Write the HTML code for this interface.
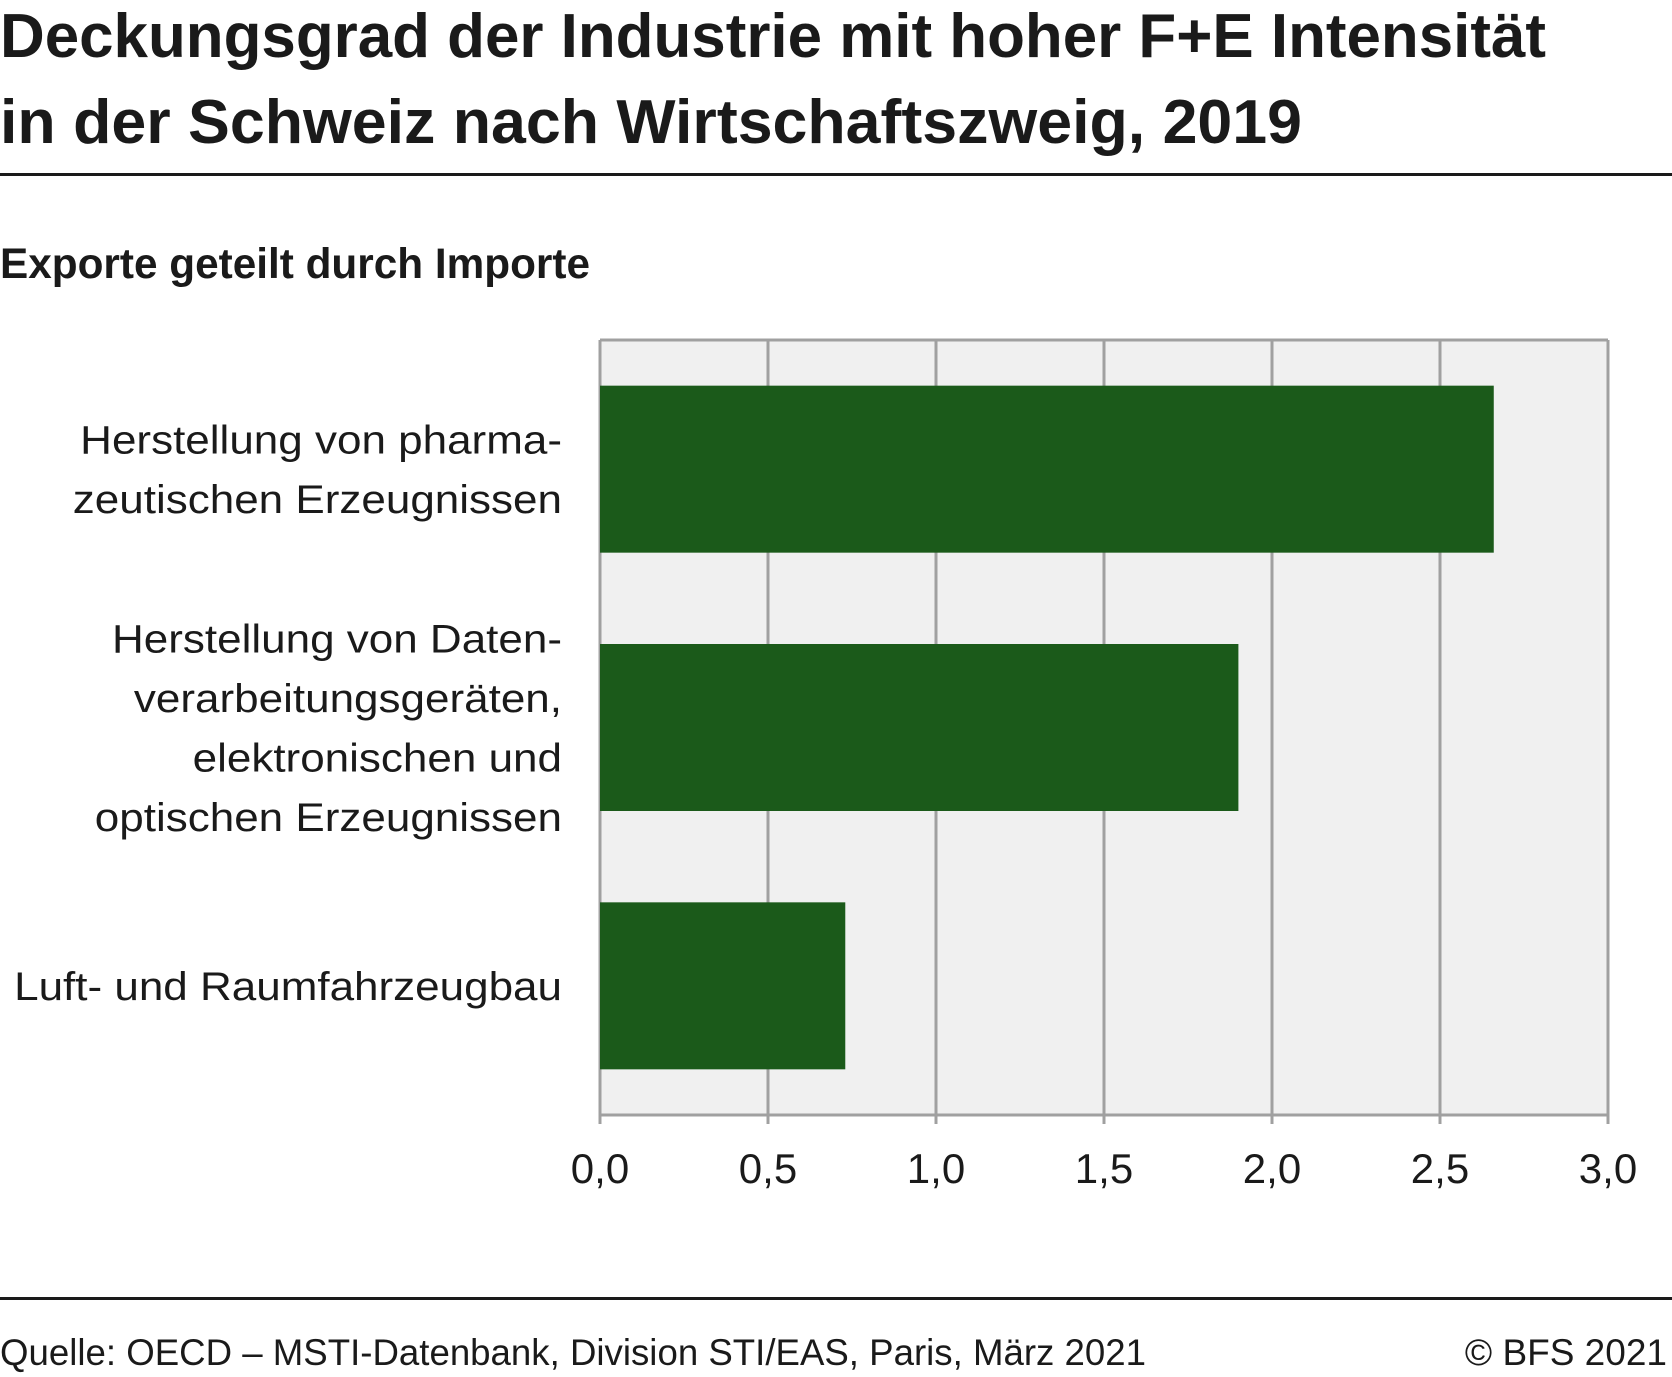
<!DOCTYPE html>
<html><head><meta charset="utf-8"><style>
html,body{margin:0;padding:0;background:#fff}
svg{display:block}
text{font-family:"Liberation Sans",sans-serif;fill:#1a1a1a}
</style></head><body>
<svg id="chart" width="1672" height="1377" viewBox="0 0 1672 1377" xmlns="http://www.w3.org/2000/svg">
<text x="0" y="57" font-size="62" font-weight="bold" textLength="1546" lengthAdjust="spacingAndGlyphs">Deckungsgrad der Industrie mit hoher F+E Intensität</text>
<text x="0" y="143" font-size="62" font-weight="bold" textLength="1302" lengthAdjust="spacingAndGlyphs">in der Schweiz nach Wirtschaftszweig, 2019</text>
<rect x="0" y="173" width="1672" height="3" fill="#1a1a1a"/>
<text x="0" y="278" font-size="43" font-weight="bold" textLength="590" lengthAdjust="spacingAndGlyphs">Exporte geteilt durch Importe</text>
<g id="plot"></g>
<rect x="0" y="1297" width="1672" height="3" fill="#1a1a1a"/>
<text x="0" y="1365" font-size="37" fill="#333" textLength="1146" lengthAdjust="spacingAndGlyphs">Quelle: OECD – MSTI-Datenbank, Division STI/EAS, Paris, März  2021</text>
<text x="1667" y="1365" font-size="37" text-anchor="end" fill="#333">© BFS 2021</text>
</svg>
<script>
const categories = [
  ["Herstellung von pharma-","zeutischen Erzeugnissen"],
  ["Herstellung von Daten-","verarbeitungsgeräten,","elektronischen und","optischen Erzeugnissen"],
  ["Luft- und Raumfahrzeugbau"]
];
const values = [2.66, 1.90, 0.73];
const ticks = [0, 0.5, 1.0, 1.5, 2.0, 2.5, 3.0];
const tickLabels = ["0,0","0,5","1,0","1,5","2,0","2,5","3,0"];

const NS = "http://www.w3.org/2000/svg";
const plotG = document.getElementById('plot');
const X0 = 600, X1 = 1608, Y0 = 340, Y1 = 1115, xMax = 3.0;
const xScale = v => X0 + (v / xMax) * (X1 - X0);
const band = (Y1 - Y0) / categories.length;
const barH = 167;
const barY = i => Y0 + band * i + (band - barH) / 2;
function mk(tag, attrs) { const e = document.createElementNS(NS, tag); for (const k in attrs) e.setAttribute(k, attrs[k]); plotG.appendChild(e); return e; }

const bg = mk('rect', {x: X0, y: Y0, width: X1 - X0, height: Y1 - Y0, fill: '#f0f0f0'});



ticks.forEach((t, i) => {
  const gl = mk('line', {x1: xScale(t), x2: xScale(t), y1: Y0, y2: Y1 + 9, stroke: '#a0a0a0', 'stroke-width': 3});
  
  
  const tl = mk('text', {x: xScale(t), y: 1183, 'font-size': 42, 'text-anchor': 'middle', fill: '#222'});
  tl.textContent = tickLabels[i];
  
  
});
const topBorder = mk('line', {x1: X0, x2: X1, y1: Y0, y2: Y0, stroke: '#a0a0a0', 'stroke-width': 3});


const axisLine = mk('line', {x1: X0, x2: X1, y1: Y1, y2: Y1, stroke: '#a0a0a0', 'stroke-width': 3});



values.forEach((v, i) => {
  const b = mk('rect', {x: X0, y: barY(i), width: xScale(v) - X0, height: barH, fill: '#1b5a1a'});
  
  
  const lines = categories[i];
  const cy = barY(i) + barH / 2;
  const lh = 59.5;
  lines.forEach((ln, j) => {
    const t = mk('text', {x: 562, y: cy + (j - (lines.length - 1) / 2) * lh + 14, 'font-size': 40, 'text-anchor': 'end', fill: '#222'});
    t.textContent = ln;
    
    
    const w = Math.min(t.getComputedTextLength() * 1.1, 555);
    t.setAttribute('textLength', w.toFixed(1));
    t.setAttribute('lengthAdjust', 'spacingAndGlyphs');
  });
});
</script>
</body></html>
